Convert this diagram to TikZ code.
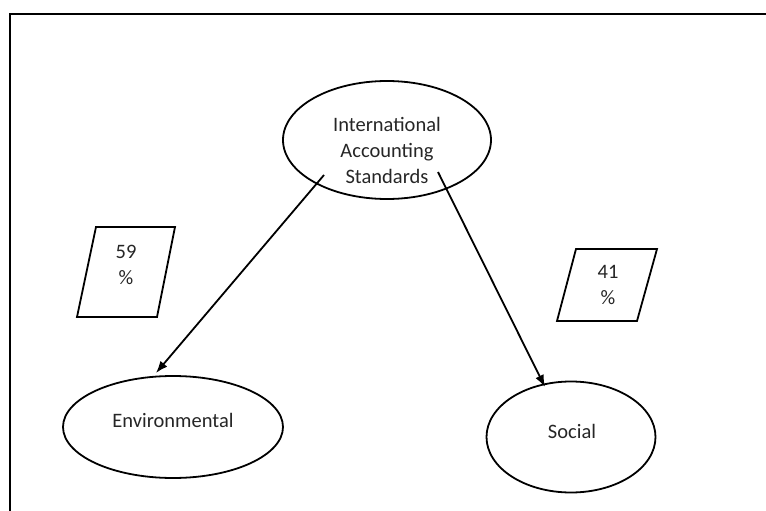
\documentclass[tikz,border=0pt]{standalone}
\usepackage{fontspec}
\setmainfont{Carlito}
\usetikzlibrary{arrows.meta,shapes.geometric}
\begin{document}
\begin{tikzpicture}[x=1pt,y=-1pt,
  oval/.style={draw,ellipse,line width=1.8pt,inner sep=0pt},
  lbl/.style={align=center,font=\fontsize{20.5}{26}\selectfont,text=black!85,inner sep=0pt},
  para/.style={draw,line width=1.8pt,line join=miter},
  arr/.style={line width=1.8pt,-{Latex[length=12pt,width=9pt]}}]
\useasboundingbox (0,0) rectangle (766,511);
% frame
\draw[line width=2.4pt] (10,515) -- (10,14) -- (770,14);
% ellipses
\node[oval,minimum width=208,minimum height=118] (ias) at (387,140) {};
\node[lbl] (iast) at (387,150) {International\\Accounting\\Standards};
\node[oval,minimum width=220,minimum height=102] (env) at (173,427) {};
\node[lbl] (envt) at (173,420) {Environmental};
\node[oval,minimum width=169,minimum height=111] (soc) at (571,437) {};
\node[lbl] (soct) at (572,431) {Social};
% parallelograms
\draw[para] (96,227) -- (175,227) -- (157,317) -- (77,317) -- cycle;
\node[lbl] (p59) at (126,265) {59\\\%};
\draw[para] (576,249) -- (657,249) -- (637,321) -- (557,321) -- cycle;
\node[lbl] (p41) at (608,285) {41\\\%};
% arrows
\coordinate (a1s) at (324,175);
\coordinate (a1e) at (156,373);
\coordinate (a2s) at (438,172);
\coordinate (a2e) at (545,387);
\draw[arr] (a1s) -- (a1e);
\draw[arr] (a2s) -- (a2e);
\end{tikzpicture}
\end{document}
